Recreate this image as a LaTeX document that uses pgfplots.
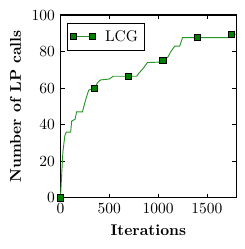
\documentclass[border=0pt]{standalone}
\usepackage{pgfplots}
\pgfplotsset{compat=1.18}
\definecolor{lineg}{RGB}{40,150,40}
\definecolor{markg}{RGB}{0,128,0}
\begin{document}
\begin{tikzpicture}
\begin{axis}[
  name=ax,
  scale only axis,
  width=113.5pt, height=118pt,
  xmin=0, xmax=1800, ymin=0, ymax=100,
  xtick={0,500,1000,1500},
  ytick={0,20,40,60,80,100},
  /pgf/number format/set thousands separator={},
  tick align=inside,
  major tick length=2.8pt,
  axis line style={line width=0.8pt},
  every tick/.style={black, line width=0.6pt},
  xlabel={\textbf{Iterations}},
  ylabel={\textbf{Number of LP calls}},
  x label style={at={(axis description cs:0.5,-0.176)}, anchor=center},
  y label style={at={(axis description cs:-0.255,0.5)}, anchor=center},
  legend style={at={(axis description cs:0.035,0.958)}, anchor=north west,
    draw=black, line width=0.6pt, inner xsep=2pt, inner ysep=2.5pt, font=\normalsize},
  legend cell align=left,
  clip=false,
]
\addplot[lineg, line width=0.6pt, forget plot] coordinates {
(0,0) (10,10) (25,25) (45,34) (60,36) (105,36) (115,42) (150,43) (165,47)
(225,47) (240,50) (260,54) (290,59) (350,60) (380,63) (410,64.5) (500,65)
(540,66.5) (780,66.5) (800,68) (850,71) (890,74) (1040,74.3) (1060,75.5)
(1100,77) (1130,80) (1170,83) (1220,83) (1250,87.6) (1740,87.6) (1750,89.5) (1800,89.5)
};
\addplot[only marks, mark=square*, mark size=2pt,
  mark options={fill=markg, draw=black, line width=0.6pt}, forget plot] coordinates {
(0,0) (350,60) (700,66.5) (1050,75.3) (1400,87.6) (1750,89.5)
};
\addlegendimage{lineg, line width=0.6pt, mark=square*, mark size=2pt,
  mark options={fill=markg, draw=black, line width=0.6pt},
  legend image code/.code={\draw[mark repeat=2, mark phase=1] plot coordinates {(2.5pt,0pt) (8.75pt,0pt) (15pt,0pt)};}}
\addlegendentry{\hspace{4pt}LCG\hspace{1pt}}
\end{axis}
\path ([xshift=-39pt,yshift=-33pt]ax.south west) rectangle ([xshift=5.4pt,yshift=9.7pt]ax.north east);
\end{tikzpicture}
\end{document}
